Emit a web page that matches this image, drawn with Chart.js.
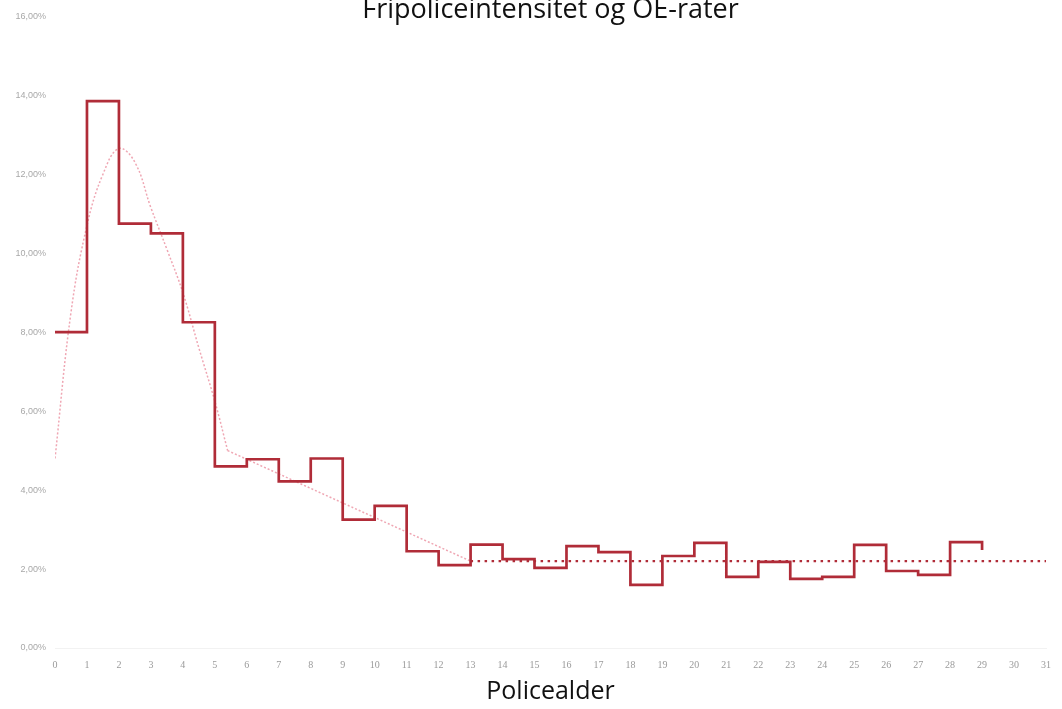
<!DOCTYPE html>
<html>
<head>
<meta charset="utf-8">
<script src="https://cdn.jsdelivr.net/npm/chart.js@4.4.1/dist/chart.umd.min.js"></script>
<style>
  html, body { margin: 0; padding: 0; background: #fff; }
  #wrap { position: relative; width: 1062px; height: 709px; }
</style>
</head>
<body>
<div id="wrap"><canvas id="chart"></canvas></div>
<script>
// Policealder (start of each year) and observed fripolice rate (%)
const ages = [0, 1, 2, 3, 4, 5, 6, 7, 8, 9, 10, 11, 12, 13, 14, 15, 16, 17, 18, 19, 20, 21, 22, 23, 24, 25, 26, 27, 28, 29];
const rates = [8.0, 13.85, 10.75, 10.5, 8.25, 4.6, 4.78, 4.22, 4.8, 3.25, 3.6, 2.45, 2.1, 2.62, 2.25, 2.03, 2.58, 2.43, 1.6, 2.33, 2.66, 1.8, 2.18, 1.75, 1.8, 2.61, 1.95, 1.85, 2.68, 2.48];

// fitted curve (pink dotted)
const curveX = [0, 0.5, 1, 1.5, 2, 2.5, 3, 3.5, 4, 4.5, 5, 5.4];
const curveY = [4.8, 8.5, 10.7, 12.0, 12.65, 12.3, 11.15, 10.1, 9.0, 7.6, 6.25, 5.0];
const tailX = [5.4, 13];
const tailY = [5.0, 2.2];

// flat level (red dotted)
const levelX = [13, 31];
const levelY = [2.2, 2.2];

const yTicks = [0, 2, 4, 6, 8, 10, 12, 14, 16];

const red = 'rgb(176, 44, 56)';
const pink = 'rgba(236, 150, 166, 0.85)';

function pts(xs, ys) {
    return xs.map((x, i) => ({ x: x, y: ys[i] }));
}

const ctx = document.getElementById('chart');
new Chart(ctx, {
    type: 'line',
    data: {
        datasets: [
            {
                label: 'Fripoliceintensitet',
                data: pts(ages, rates),
                stepped: 'before',
                borderColor: red,
                borderWidth: 2.7,
                pointRadius: 0,
                order: 1
            },
            {
                label: 'Trend',
                data: pts(curveX, curveY),
                tension: 0.4,
                borderColor: pink,
                borderWidth: 1.5,
                borderDash: [2, 2],
                pointRadius: 0,
                order: 3
            },
            {
                label: 'Trend 2',
                data: pts(tailX, tailY),
                borderColor: pink,
                borderWidth: 1.5,
                borderDash: [2, 2],
                pointRadius: 0,
                order: 3
            },
            {
                label: 'OE-rate',
                data: pts(levelX, levelY),
                borderColor: red,
                borderWidth: 2.4,
                borderDash: [2.5, 4.5],
                pointRadius: 0,
                order: 2
            }
        ]
    },
    options: {
        responsive: true,
        maintainAspectRatio: false,
        animation: false,
        layout: { padding: { left: 0, right: 12, top: 0, bottom: 0 } },
        plugins: {
            legend: { display: false },
            tooltip: { enabled: false },
            title: {
                display: true,
                fullSize: false,
                text: 'Fripoliceintensitet og OE-rater',
                color: '#111',
                font: { family: 'Open Sans', size: 27, weight: 'normal', lineHeight: 0.75 },
                padding: { top: 0, bottom: -4 }
            }
        },
        scales: {
            x: {
                type: 'linear',
                min: 0,
                max: 31,
                grid: { display: false, drawTicks: false },
                border: { display: true, color: '#f2f2f2' },
                ticks: {
                    stepSize: 1,
                    padding: 11,
                    color: '#9a9a9a',
                    font: { family: 'Liberation Serif', size: 10 },
                    callback: v => v
                },
                title: {
                    display: true,
                    text: 'Policealder',
                    color: '#111',
                    font: { family: 'Open Sans', size: 25 },
                    padding: { top: 0, bottom: 2 }
                },
                afterFit: scale => { scale.height = 61; }
            },
            y: {
                min: 0,
                max: 16,
                grid: { display: false, drawTicks: false },
                border: { display: false },
                afterBuildTicks: scale => {
                    scale.ticks = yTicks.map(v => ({ value: v }));
                },
                ticks: {
                    padding: 9,
                    color: '#a8a8a8',
                    font: { family: 'Liberation Sans', size: 9 },
                    callback: v => v.toFixed(2).replace('.', ',') + '%'
                },
                afterFit: scale => { scale.width = 55; }
            }
        }
    }
});
</script>
</body>
</html>
